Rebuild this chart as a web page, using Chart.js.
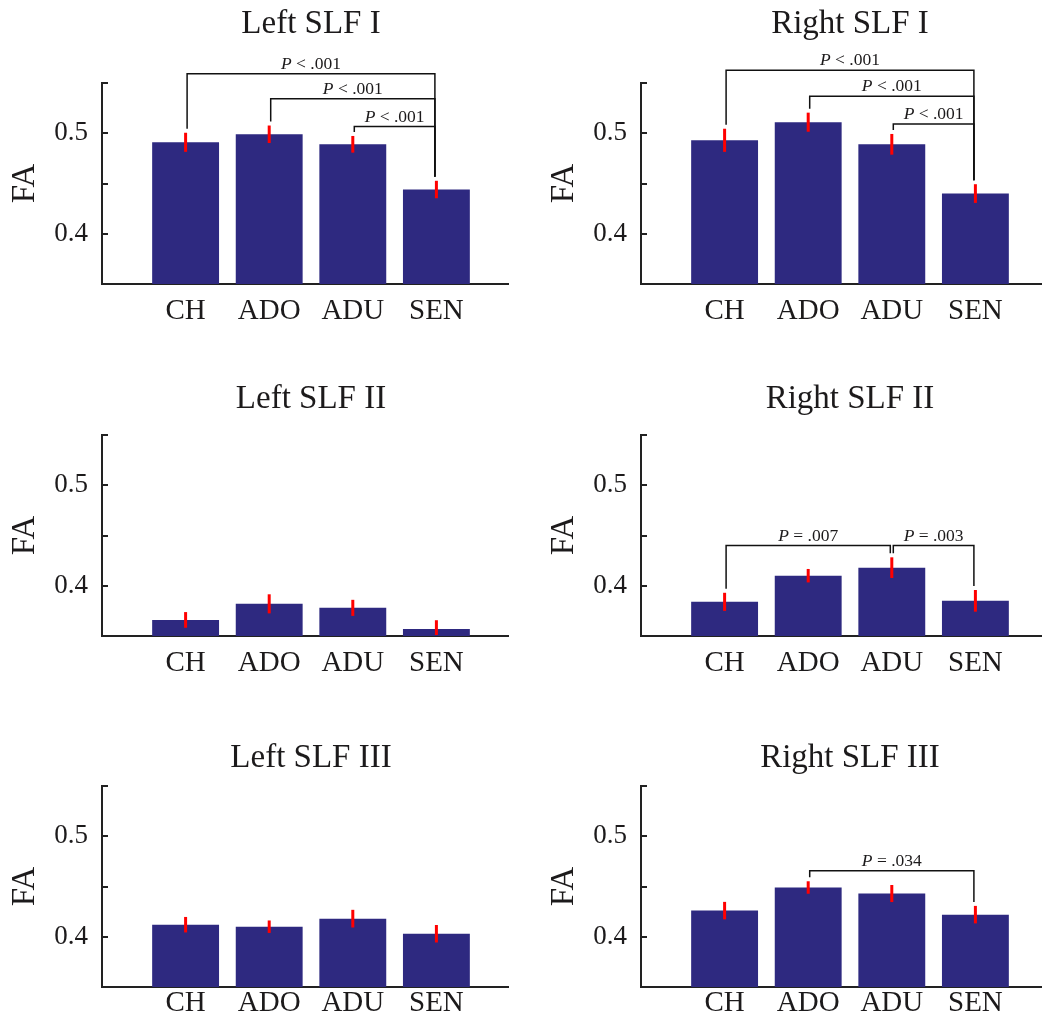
<!DOCTYPE html>
<html>
<head>
<meta charset="utf-8">
<script src="https://cdn.jsdelivr.net/npm/chart.js@4/dist/chart.umd.min.js"></script>
<style>
  html, body { margin:0; padding:0; background:#fff; overflow:hidden; width:1042px; height:1021px; }
  .cell { position:absolute; overflow:hidden; }
  .cell canvas { position:absolute; left:0; top:0; }
</style>
</head>
<body>
<div id="wrap"></div>
<script>
// ---------- data ----------
const categories = ['CH', 'ADO', 'ADU', 'SEN'];
const catPositions = [1, 2, 3, 4];
const yTickValues = [0.35, 0.4, 0.45, 0.5, 0.55];
const yTickLabels = ['', '0.4', '', '0.5', ''];
const panelTitles = ['Left SLF I', 'Right SLF I', 'Left SLF II', 'Right SLF II', 'Left SLF III', 'Right SLF III'];

const leftSLF1    = [0.491, 0.499, 0.489, 0.444];
const leftSLF1Err = [0.0095, 0.0087, 0.0083, 0.0087];
const rightSLF1    = [0.493, 0.511, 0.489, 0.440];
const rightSLF1Err = [0.0115, 0.0095, 0.0103, 0.0093];
const leftSLF2    = [0.366, 0.382, 0.378, 0.357];
const leftSLF2Err = [0.0078, 0.0095, 0.0080, 0.0087];
const rightSLF2    = [0.384, 0.410, 0.418, 0.385];
const rightSLF2Err = [0.0090, 0.0067, 0.0103, 0.0108];
const leftSLF3    = [0.412, 0.410, 0.418, 0.403];
const leftSLF3Err = [0.0077, 0.0062, 0.0088, 0.0087];
const rightSLF3    = [0.426, 0.449, 0.443, 0.422];
const rightSLF3Err = [0.0087, 0.0062, 0.0085, 0.0087];

// significance brackets: [fromIndex, toIndex, level (FA), label]
const leftSLF1Sig  = [[0, 3, 0.5593, 'P < .001'], [1, 3, 0.5343, 'P < .001'], [2, 3, 0.5067, 'P < .001']];
const rightSLF1Sig = [[0, 3, 0.5627, 'P < .001'], [1, 3, 0.5367, 'P < .001'], [2, 3, 0.5093, 'P < .001']];
const leftSLF2Sig  = [];
const rightSLF2Sig = [[0, 2, 0.440, 'P = .007'], [2, 3, 0.440, 'P = .003']];
const leftSLF3Sig  = [];
const rightSLF3Sig = [[1, 3, 0.4657, 'P = .034']];

const panelValues = [leftSLF1, rightSLF1, leftSLF2, rightSLF2, leftSLF3, rightSLF3];
const panelErrors = [leftSLF1Err, rightSLF1Err, leftSLF2Err, rightSLF2Err, leftSLF3Err, rightSLF3Err];
const panelSig    = [leftSLF1Sig, rightSLF1Sig, leftSLF2Sig, rightSLF2Sig, leftSLF3Sig, rightSLF3Sig];

// ---------- layout / style ----------
const SERIF = "'Liberation Serif', 'Times New Roman', serif";
const TEXT = '#1c1a1b';
const AXIS = '#222222';
const BAR = '#2e2980';
const ERR = '#ff0000';
const colLeft = [0, 539];
const colWidth = [509, 503];
const rowTop = [0, 352, 703];
const titlePad = [{top: 8, bottom: 42}, {top: 31, bottom: 19}, {top: 39, bottom: 11}];
const xLabelPad = [13, 13, 2];
const CW = 520, CH = 340;

function makeOverlay(values, errors, sig) {
  return {
    id: 'overlay',
    afterDraw(chart) {
      const {ctx, chartArea} = chart;
      const x = chart.scales.x, y = chart.scales.y;
      ctx.save();
      // inward y ticks
      ctx.strokeStyle = AXIS; ctx.lineWidth = 2;
      y.ticks.forEach(t => {
        const py = Math.round(y.getPixelForValue(t.value));
        ctx.beginPath(); ctx.moveTo(chartArea.left, py); ctx.lineTo(chartArea.left + 6, py); ctx.stroke();
      });
      // error bars
      ctx.strokeStyle = ERR; ctx.lineWidth = 3; ctx.lineCap = 'butt';
      values.forEach((v, i) => {
        const px = x.getPixelForValue(catPositions[i]);
        const y1 = Math.min(y.getPixelForValue(v - errors[i]), chartArea.bottom - 1);
        const y2 = y.getPixelForValue(v + errors[i]);
        ctx.beginPath(); ctx.moveTo(px, y1); ctx.lineTo(px, y2); ctx.stroke();
      });
      // significance brackets
      ctx.strokeStyle = '#111'; ctx.lineWidth = 1.5;
      sig.forEach(([a, b, lvl, label]) => {
        const xa = x.getPixelForValue(catPositions[a]) + 1.5;
        const xb = x.getPixelForValue(catPositions[b]) - 1.5;
        const yl = y.getPixelForValue(lvl);
        const ya = y.getPixelForValue(values[a] + errors[a]) - 4;
        const yb = y.getPixelForValue(values[b] + errors[b]) - 4;
        ctx.beginPath();
        ctx.moveTo(xa, ya); ctx.lineTo(xa, yl); ctx.lineTo(xb, yl); ctx.lineTo(xb, yb);
        ctx.stroke();
        // label: italic P + rest
        const first = label.charAt(0), rest = label.slice(1);
        const fi = 'italic 17.5px ' + SERIF, fn = '17.5px ' + SERIF;
        ctx.font = fi; const w1 = ctx.measureText(first).width;
        ctx.font = fn; const w2 = ctx.measureText(rest).width;
        const cx = (xa + xb) / 2, x0 = cx - (w1 + w2) / 2, by = yl - 5;
        ctx.fillStyle = TEXT; ctx.textBaseline = 'alphabetic'; ctx.textAlign = 'left';
        ctx.font = fi; ctx.fillText(first, x0, by);
        ctx.font = fn; ctx.fillText(rest, x0 + w1, by);
      });
      ctx.restore();
    }
  };
}

const wrap = document.getElementById('wrap');
panelTitles.forEach((title, k) => {
  const row = Math.floor(k / 2), col = k % 2;
  const cell = document.createElement('div');
  cell.className = 'cell';
  cell.style.left = colLeft[col] + 'px';
  cell.style.top = rowTop[row] + 'px';
  cell.style.width = colWidth[col] + 'px';
  cell.style.height = CH + 'px';
  const cv = document.createElement('canvas');
  cv.width = CW; cv.height = CH;
  cv.style.width = CW + 'px'; cv.style.height = CH + 'px';
  cell.appendChild(cv);
  wrap.appendChild(cell);

  const values = panelValues[k], errors = panelErrors[k];
  new Chart(cv, {
    type: 'bar',
    data: {
      datasets: [{
        data: values.map((v, i) => ({x: catPositions[i], y: v})),
        backgroundColor: BAR,
        borderWidth: 0,
        barPercentage: 0.8,
        categoryPercentage: 1.0
      }]
    },
    options: {
      responsive: false,
      maintainAspectRatio: false,
      animation: false,
      devicePixelRatio: 1,
      layout: {padding: 0},
      plugins: {
        legend: {display: false},
        tooltip: {enabled: false},
        title: {
          display: true, text: title, fullSize: false,
          color: TEXT, font: {family: SERIF, size: 33, weight: 'normal', lineHeight: 1},
          padding: titlePad[row]
        }
      },
      scales: {
        x: {
          type: 'linear', min: 0, max: 5, offset: false,
          afterFit: s => { s.height = CH - 83 - 201; },
          afterBuildTicks: s => { s.ticks = catPositions.map(v => ({value: v})); },
          grid: {drawOnChartArea: false, drawTicks: false, offset: false},
          border: {display: true, color: AXIS, width: 2},
          ticks: {
            autoSkip: false, maxRotation: 0,
            padding: xLabelPad[row],
            color: TEXT, font: {family: SERIF, size: 29, lineHeight: 1},
            callback: (v) => categories[catPositions.indexOf(v)] ?? ''
          }
        },
        y: {
          min: 0.35, max: 0.55,
          afterFit: s => { s.width = 102; },
          afterBuildTicks: s => { s.ticks = yTickValues.map(v => ({value: v})); },
          grid: {drawOnChartArea: false, drawTicks: false},
          border: {display: true, color: AXIS, width: 2},
          ticks: {
            padding: 14, color: TEXT,
            font: {family: SERIF, size: 27},
            callback: (v, i) => yTickLabels[i]
          },
          title: {
            display: true, text: 'FA', color: TEXT,
            font: {family: SERIF, size: 33, lineHeight: 1.2},
            padding: {top: 6, bottom: 0}
          }
        }
      }
    },
    plugins: [makeOverlay(values, errors, panelSig[k])]
  });
});
</script>
</body>
</html>
